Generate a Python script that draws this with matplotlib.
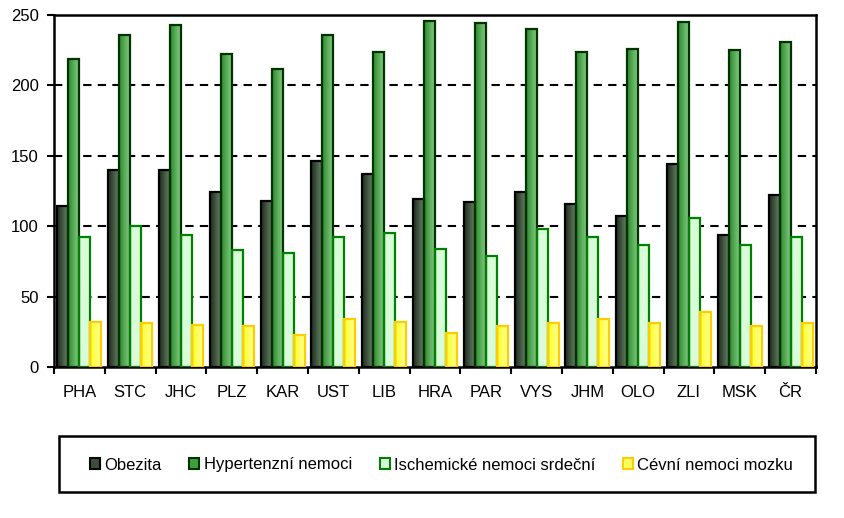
import numpy as np
import matplotlib
matplotlib.use("Agg")
import matplotlib.pyplot as plt
from matplotlib.patches import Patch, Rectangle
from matplotlib.colors import LinearSegmentedColormap

plt.rcParams['font.family'] = ['Liberation Sans', 'DejaVu Sans']

categories = ["PHA", "STC", "JHC", "PLZ", "KAR", "UST", "LIB", "HRA", "PAR", "VYS",
              "JHM", "OLO", "ZLI", "MSK", "ČR"]
obezita = [114, 140, 140, 124, 118, 146, 137, 119, 117, 124, 116, 107, 144, 94, 122]
hypertenzni = [219, 236, 243, 222, 212, 236, 224, 246, 244, 240, 224, 226, 245, 225, 231]
ischemicke = [92, 100, 94, 83, 81, 92, 95, 84, 79, 98, 92, 87, 106, 87, 92]
cevni = [32, 31, 30, 29, 23, 34, 32, 24, 29, 31, 34, 31, 39, 29, 31]
series_names = ["Obezita", "Hypertenzní nemoci", "Ischemické nemoci srdeční", "Cévní nemoci mozku"]
yticks = [0, 50, 100, 150, 200, 250]

styles = [
    dict(c0="#1c2a1c", c1="#6d8a6d", edge="#000000", legend_face="#3a4f3a"),
    dict(c0="#2a8a2a", c1="#8fd08f", edge="#003300", legend_face="#3f9f3f"),
    dict(c0="#d9fcd9", c1="#d9fcd9", edge="#008000", legend_face="#d9fcd9"),
    dict(c0="#ffff20", c1="#ffffa8", edge="#ffcc00", legend_face="#ffff60"),
]

fig = plt.figure(figsize=(8.45, 5.18), dpi=100)
ax = fig.add_axes([54/845, 1-367/518, (816-54)/845, (367-15)/518])

x = np.arange(len(categories))
w = 0.217
all_series = [obezita, hypertenzni, ischemicke, cevni]

ax.set_xlim(-0.5, len(categories)-0.5)
ax.set_ylim(0, 250)

for i, (vals, st) in enumerate(zip(all_series, styles)):
    offs = (i - 1.5) * w
    bars = ax.bar(x + offs, vals, width=w, facecolor="none", edgecolor=st["edge"],
                  linewidth=1.6, zorder=4)
    cmap = LinearSegmentedColormap.from_list("g%d" % i, [st["c0"], st["c1"]])
    grad = np.linspace(0, 1, 64).reshape(1, -1)
    for r in bars:
        bx, by, bw, bh = r.get_x(), r.get_y(), r.get_width(), r.get_height()
        im = ax.imshow(grad, cmap=cmap, extent=[bx, bx+bw, by, by+bh],
                       aspect='auto', zorder=3, interpolation='bilinear')
        im.set_clip_path(r)

ax.set_xlim(-0.5, len(categories)-0.5)
ax.set_ylim(0, 250)

for v in yticks[1:-1]:
    ax.axhline(v, color="black", linestyle=(0, (4, 3)), linewidth=1.5, zorder=1)

ax.set_yticks(yticks)
ax.set_yticklabels([str(t) for t in yticks], fontsize=12)
ax.set_xticks(x)
ax.set_xticklabels(categories, fontsize=12)
ax.tick_params(axis='x', length=0, pad=13)
ax.set_xticks(np.arange(-0.5, len(categories)), minor=True)
ax.tick_params(axis='x', which='minor', length=5, width=1.5, direction='out')
ax.tick_params(axis='y', length=5, width=1.5, direction='out', pad=6)
for s in ax.spines.values():
    s.set_linewidth(1.8)
    s.set_color("black")

handles = [Patch(facecolor=st["legend_face"], edgecolor=st["edge"], linewidth=1.5) for st in styles]
leg = fig.legend(handles, series_names, loc='center', bbox_to_anchor=(441.5/845, 1-465/518),
                 ncol=4, frameon=False, fontsize=12, handlelength=0.6, handleheight=0.6,
                 handletextpad=0.25, columnspacing=1.68)
fig.patches.append(Rectangle((59/845, 1-492/518), (815-59)/845, 56/518, transform=fig.transFigure,
                             facecolor="none", edgecolor="black", linewidth=1.8))

fig.savefig("out.png", dpi=100)
